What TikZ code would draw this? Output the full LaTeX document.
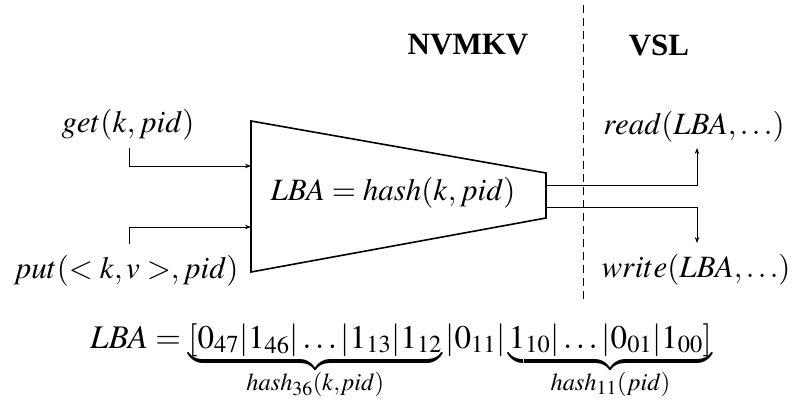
\documentclass[tikz,border=0pt]{standalone}
\usepackage{mathptmx}
\usepackage[no-math]{fontspec}
\setmainfont{Liberation Serif}
\usetikzlibrary{arrows.meta}

\tikzset{
  lbl/.style={inner sep=0pt, font=\fontsize{31}{37}\selectfont},
  head/.style={inner sep=0pt, font=\fontsize{31}{37}\selectfont\bfseries},
  block/.style={line width=1.6pt, line join=miter},
  wire/.style={line width=0.8pt},
  feed/.style={wire, -{Stealth[length=6pt, width=4.5pt]}},
  layer/.style={line width=0.8pt, dash pattern=on 8pt off 5pt},
}

\begin{document}
\begin{tikzpicture}[x=1pt, y=-1pt]
  \useasboundingbox (0,0) rectangle (796,407);

  % layer headings and separator
  \node[head] (nvmkv) at (468,45) {NVMKV};
  \node[head] (vsl) at (659,45) {VSL};
  \coordinate (sepT) at (583,5);
  \coordinate (sepB) at (583,302);
  \draw[layer] (sepT) -- (sepB);

  % hashing block
  \coordinate (tl) at (251,121);
  \coordinate (tr) at (546,173);
  \coordinate (br) at (546,218);
  \coordinate (bl) at (251,272);
  \draw[block] (tl) -- (tr) -- (br) -- (bl) -- cycle;
  \node[lbl] (hashfn) at (393,193) {$LBA = hash(k,pid)$};

  % inputs
  \node[lbl] (get) at (128,125) {$get(k,pid)$};
  \node[lbl] (put) at (126,271) {$put(<k,v>,pid)$};
  \coordinate (getS) at (129,148);
  \coordinate (getE) at (251,166);
  \coordinate (putS) at (129,244);
  \coordinate (putE) at (251,227);
  \draw[feed] (getS) |- (getE);
  \draw[feed] (putS) |- (putE);

  % outputs
  \node[lbl] (read) at (694,127) {$read(LBA,\ldots)$};
  \node[lbl] (write) at (696,270) {$write(LBA,\ldots)$};
  \coordinate (rdS) at (546,185);
  \coordinate (rdE) at (697,148);
  \coordinate (wrS) at (546,207);
  \coordinate (wrE) at (697,243);
  \draw[feed] (rdS) -| (rdE);
  \draw[feed] (wrS) -| (wrE);

  % address layout
  \node[lbl, anchor=base west, font=\fontsize{33}{40}\selectfont] (addr) at (90,348)
    {$LBA = \underbrace{[0_{47}|1_{46}|\ldots|1_{13}|1_{12}}_{hash_{36}(k,pid)}|0_{11}|\underbrace{1_{10}|\ldots|0_{01}|1_{00}]}_{hash_{11}(pid)}$};
\end{tikzpicture}
\end{document}
